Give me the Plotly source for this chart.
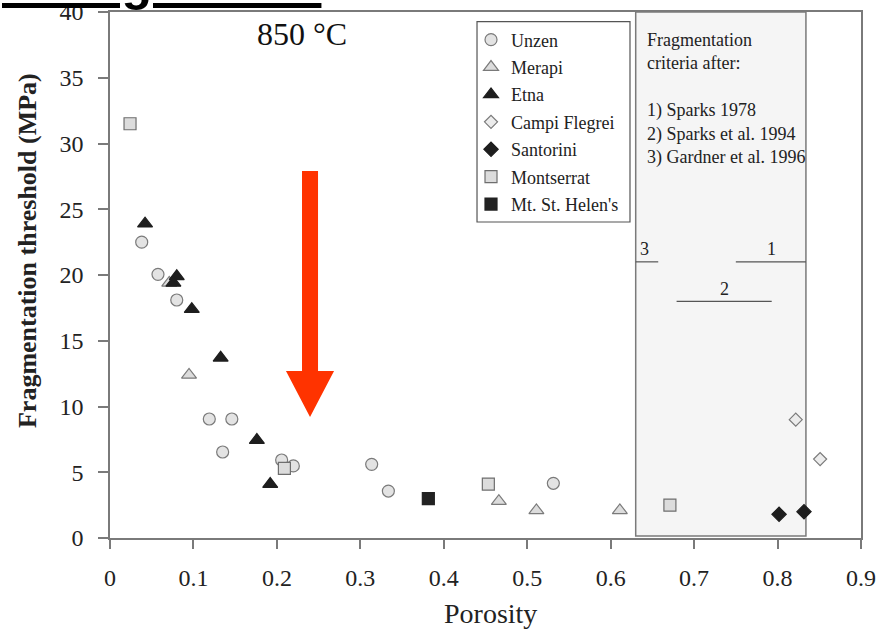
import plotly.graph_objects as go

# ---- data (porosity, fragmentation threshold in MPa) ----
unzen_x = [0.038, 0.0575, 0.080, 0.119, 0.146, 0.135, 0.2057, 0.2197, 0.3136, 0.3336, 0.5313]
unzen_y = [22.5, 20.05, 18.1, 9.05, 9.05, 6.54, 5.93, 5.48, 5.6, 3.57, 4.16]

merapi_x = [0.071, 0.0947, 0.466, 0.511, 0.611]
merapi_y = [19.4, 12.4, 2.8, 2.1, 2.1]

etna_x = [0.042, 0.080, 0.076, 0.098, 0.1326, 0.176, 0.192]
etna_y = [23.9, 19.9, 19.4, 17.4, 13.7, 7.45, 4.1]

campi_x = [0.8218, 0.851]
campi_y = [9.0, 6.0]

santorini_x = [0.8018, 0.8317]
santorini_y = [1.8, 2.0]

montserrat_x = [0.024, 0.209, 0.4534, 0.671]
montserrat_y = [31.5, 5.3, 4.1, 2.5]

helens_x = [0.3815]
helens_y = [3.0]

x_ticks = [0, 0.1, 0.2, 0.3, 0.4, 0.5, 0.6, 0.7, 0.8, 0.9]
x_tick_labels = ["0", "0.1", "0.2", "0.3", "0.4", "0.5", "0.6", "0.7", "0.8", "0.9"]
y_ticks = [0, 5, 10, 15, 20, 25, 30, 35, 40]
y_tick_labels = ["0", "5", "10", "15", "20", "25", "30", "35", "40"]

SERIF = "Liberation Serif"
GRAY_LINE = "#7a7a7a"

series = [
    ("Unzen", unzen_x, unzen_y, "circle", 12, "#e3e3e3", "#7a7a7a"),
    ("Merapi", merapi_x, merapi_y, "triangle-up", 13, "#dcdcdc", "#7a7a7a"),
    ("Etna", etna_x, etna_y, "triangle-up", 13, "#1e1e1e", "#1e1e1e"),
    ("Campi Flegrei", campi_x, campi_y, "diamond", 10, "#ececec", "#7a7a7a"),
    ("Santorini", santorini_x, santorini_y, "diamond", 11, "#1e1e1e", "#1e1e1e"),
    ("Montserrat", montserrat_x, montserrat_y, "square", 12, "#dcdcdc", "#6e6e6e"),
    ("Mt. St. Helen's", helens_x, helens_y, "square", 12, "#222222", "#222222"),
]

fig = go.Figure()
for name, xs, ys, sym, size, fill, line in series:
    fig.add_trace(go.Scatter(
        x=xs, y=ys, mode="markers", name=name, legendgroup=name,
        marker=dict(symbol=sym, size=size, color=fill,
                    line=dict(color=line, width=1.2)),
    ))

shapes = [
    # shaded fragmentation-criteria box
    dict(type="rect", xref="x", yref="y", x0=0.63, x1=0.834, y0=0.15, y1=40,
         fillcolor="#f5f5f5", line=dict(color=GRAY_LINE, width=1.5), layer="below"),
    # criteria lines
    dict(type="line", xref="x", yref="y", x0=0.63, x1=0.657, y0=21, y1=21,
         line=dict(color="#555555", width=1.2)),
    dict(type="line", xref="x", yref="y", x0=0.75, x1=0.834, y0=21, y1=21,
         line=dict(color="#555555", width=1.2)),
    dict(type="line", xref="x", yref="y", x0=0.679, x1=0.793, y0=18, y1=18,
         line=dict(color="#555555", width=1.2)),
    # legend frame
    dict(type="rect", xref="paper", yref="paper", x0=0.4887, x1=0.6924, y0=0.6008, y1=0.9816,
         fillcolor="white", line=dict(color="#555555", width=1.2), layer="below"),
    # red arrow
    dict(type="path", xref="x", yref="y",
         path="M 0.2301,27.9 L 0.2493,27.9 L 0.2493,12.7 L 0.2685,12.7 L 0.2397,9.2 "
              "L 0.2109,12.7 L 0.2301,12.7 Z",
         fillcolor="#ff3300", line=dict(width=0)),
]

annotations = [
    dict(text="850 °C", xref="x", yref="y", x=0.2304, y=38.3, showarrow=False,
         xanchor="center", yanchor="middle",
         font=dict(family=SERIF, size=32, color="#111111")),
    dict(text="Fragmentation<br>criteria after:<br> <br>1) Sparks 1978<br>2) Sparks et al. 1994<br>3) Gardner et al. 1996",
         xref="paper", yref="paper", x=0.7124, y=0.9696, xanchor="left", yanchor="top",
         align="left", showarrow=False, font=dict(family=SERIF, size=18, color="#222222")),
    dict(text="3", xref="x", yref="y", x=0.641, y=22.0, showarrow=False,
         xanchor="center", yanchor="middle",
         font=dict(family=SERIF, size=18, color="#222222")),
    dict(text="1", xref="x", yref="y", x=0.793, y=22.0, showarrow=False,
         xanchor="center", yanchor="middle",
         font=dict(family=SERIF, size=18, color="#222222")),
    dict(text="2", xref="x", yref="y", x=0.737, y=18.9, showarrow=False,
         xanchor="center", yanchor="middle",
         font=dict(family=SERIF, size=18, color="#222222")),
    dict(text="<b>Fragmentation threshold (MPa)</b>", xref="paper", yref="paper",
         x=-0.1105, y=0.5456, xanchor="center", yanchor="middle",
         textangle=-90, showarrow=False,
         font=dict(family=SERIF, size=26, color="#222222")),
    dict(text="Porosity", xref="paper", yref="paper", x=0.506, y=-0.1426,
         xanchor="center", yanchor="middle",
         showarrow=False, font=dict(family=SERIF, size=28, color="#222222")),
    dict(text="<u><b>configuration</b></u>", xref="paper", yref="paper",
         x=-0.1465, y=0.9978, xanchor="left", yanchor="bottom", showarrow=False,
         font=dict(family="Liberation Sans", size=50, color="#000000")),
]

fig.update_layout(
    width=878, height=630,
    margin=dict(l=110, r=17, t=12, b=92, autoexpand=False),
    paper_bgcolor="white", plot_bgcolor="white",
    shapes=shapes, annotations=annotations,
    showlegend=True,
    legend=dict(x=0.4807, y=0.982, xanchor="left", yanchor="top",
                bgcolor="rgba(0,0,0,0)", borderwidth=0, tracegroupgap=1,
                font=dict(family=SERIF, size=18, color="#222222")),
    font=dict(family=SERIF),
)
fig.update_xaxes(range=[0, 0.9], tickvals=x_ticks, ticktext=x_tick_labels,
                 showline=True, linecolor=GRAY_LINE, linewidth=1.5, mirror=True,
                 ticks="outside", ticklen=9, tickwidth=1.5, tickcolor=GRAY_LINE,
                 ticklabelstandoff=8, showgrid=False, zeroline=False, automargin=False,
                 ticklabeloverflow="allow",
                 tickfont=dict(family=SERIF, size=24, color="#222222"))
fig.update_yaxes(range=[0, 40], tickvals=y_ticks, ticktext=y_tick_labels,
                 showline=True, linecolor=GRAY_LINE, linewidth=1.5, mirror=True,
                 ticks="outside", ticklen=10, tickwidth=1.5, tickcolor=GRAY_LINE,
                 ticklabelstandoff=10, showgrid=False, zeroline=False, automargin=False,
                 ticklabeloverflow="allow",
                 tickfont=dict(family=SERIF, size=24, color="#222222"))

fig.write_html("out.html")
